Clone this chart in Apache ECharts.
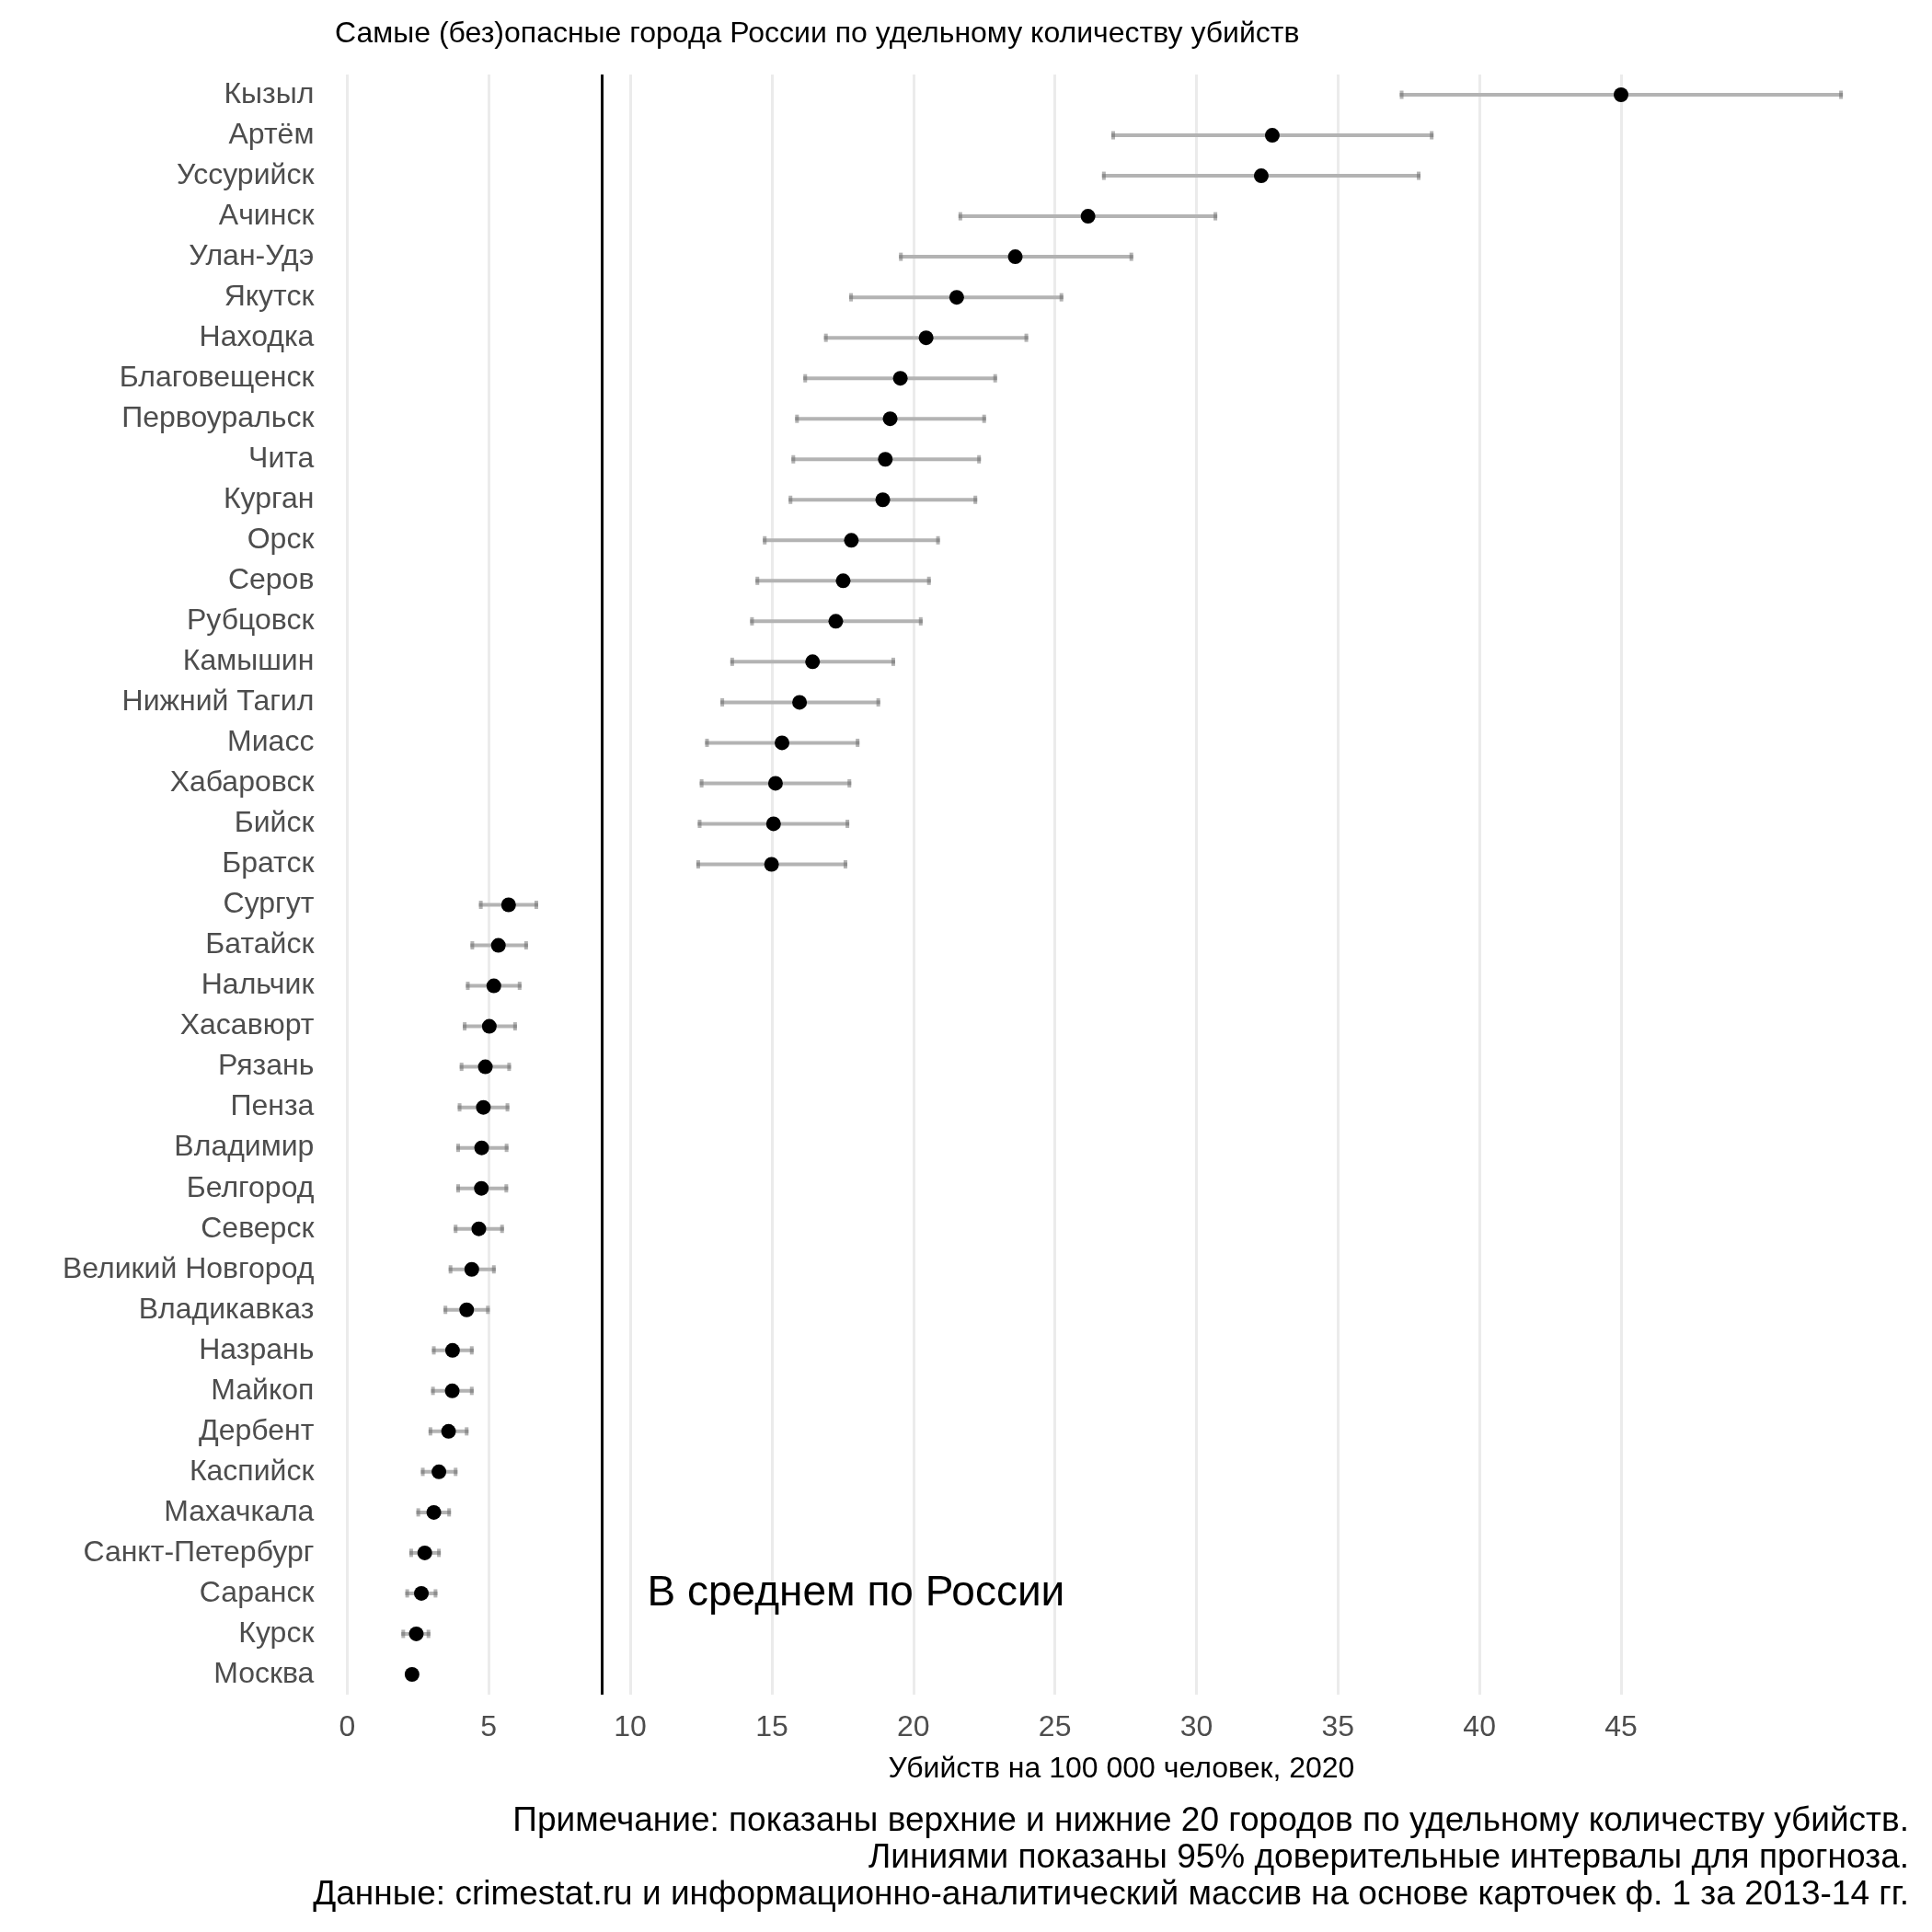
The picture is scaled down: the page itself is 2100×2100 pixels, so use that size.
<!DOCTYPE html>
<html>
<head>
<meta charset="utf-8">
<script src="https://cdn.jsdelivr.net/npm/echarts@6/dist/echarts.min.js"></script>
<style>
html,body{margin:0;padding:0;background:#fff;}
#chart{width:2100px;height:2100px;}
</style>
</head>
<body>
<div id="chart"></div>
<script>
const cities = ['Кызыл','Артём','Уссурийск','Ачинск','Улан-Удэ','Якутск','Находка','Благовещенск','Первоуральск','Чита','Курган','Орск','Серов','Рубцовск','Камышин','Нижний Тагил','Миасс','Хабаровск','Бийск','Братск','Сургут','Батайск','Нальчик','Хасавюрт','Рязань','Пенза','Владимир','Белгород','Северск','Великий Новгород','Владикавказ','Назрань','Майкоп','Дербент','Каспийск','Махачкала','Санкт-Петербург','Саранск','Курск','Москва'];
const rate   = [45.0,32.68,32.29,26.17,23.6,21.53,20.45,19.54,19.18,19.01,18.92,17.81,17.52,17.26,16.44,15.98,15.36,15.13,15.06,14.99,5.70,5.34,5.18,5.02,4.88,4.81,4.75,4.74,4.65,4.40,4.22,3.72,3.71,3.58,3.24,3.06,2.74,2.62,2.44,2.29];
const ciLow  = [37.25,27.06,26.73,21.66,19.56,17.80,16.91,16.18,15.89,15.76,15.66,14.75,14.49,14.30,13.60,13.25,12.71,12.52,12.45,12.40,4.72,4.42,4.26,4.15,4.04,3.97,3.92,3.92,3.83,3.65,3.47,3.06,3.03,2.94,2.67,2.51,2.26,2.12,1.98,2.18];
const ciHigh = [52.77,38.31,37.85,30.67,27.70,25.23,23.99,22.89,22.50,22.32,22.19,20.87,20.55,20.26,19.29,18.76,18.03,17.74,17.67,17.60,6.68,6.32,6.09,5.93,5.72,5.66,5.63,5.62,5.47,5.18,4.97,4.40,4.40,4.22,3.83,3.60,3.24,3.12,2.87,2.40];
const xTickLabels = [0,5,10,15,20,25,30,35,40,45];
const nationalAverage = 9.0;
const averageLabel = 'В среднем по России';
const averageLabelAt = [10.6, 'Саранск'];
const titleText = 'Самые (без)опасные города России по удельному количеству убийств';
const xAxisTitle = 'Убийств на 100 000 человек, 2020';
const notes = [
  'Примечание: показаны верхние и нижние 20 городов по удельному количеству убийств.',
  'Линиями показаны 95% доверительные интервалы для прогноза.',
  'Данные: crimestat.ru и информационно-аналитический массив на основе карточек ф. 1 за 2013-14 гг.'
];

const FONT = '"Liberation Sans", Arial, sans-serif';
const chart = echarts.init(document.getElementById('chart'), null, {renderer:'canvas'});

const xMax = 55;
const splitColors = [];
for (let v = 0; v <= xMax; v += 5) splitColors.push(xTickLabels.indexOf(v) >= 0 ? '#ebebeb' : 'rgba(0,0,0,0)');

function capGroup(p){
  return [
    {type:'rect', shape:{x:p[0]-2, y:p[1]-4.5, width:4, height:9}, style:{fill:'#b3b3b3'}},
    {type:'rect', shape:{x:p[0]-2, y:p[1]-2, width:4, height:4}, style:{fill:'#8c8c8c'}}
  ];
}

const option = {
  animation:false,
  backgroundColor:'#ffffff',
  grid:{left:377.4, right:30.3, top:81, bottom:258, containLabel:false},
  xAxis:{
    type:'value', min:0, max:xMax, interval:5,
    axisLine:{show:false}, axisTick:{show:false},
    axisLabel:{
      fontFamily:FONT, fontSize:32, color:'#4d4d4d', margin:20,
      formatter:function(v){ return xTickLabels.indexOf(v) >= 0 ? String(v) : ''; }
    },
    splitLine:{show:true, lineStyle:{color:splitColors, width:3}}
  },
  yAxis:{
    type:'category', data:cities, inverse:true,
    axisLine:{show:false}, axisTick:{show:false},
    axisLabel:{fontFamily:FONT, fontSize:32, color:'#4d4d4d', margin:36, padding:[5,0,0,0]},
    splitLine:{show:false}
  },
  graphic:[
    {type:'text', x:364, y:37, style:{text:titleText, font:'32px '+FONT, fill:'#000', textAlign:'left', textVerticalAlign:'middle'}},
    {type:'text', x:1219, y:1923, style:{text:xAxisTitle, font:'32px '+FONT, fill:'#000', textAlign:'center', textVerticalAlign:'middle'}},
    {type:'text', x:2075, y:1980, style:{text:notes[0], font:'37px '+FONT, fill:'#000', textAlign:'right', textVerticalAlign:'middle'}},
    {type:'text', x:2075, y:2020, style:{text:notes[1], font:'37px '+FONT, fill:'#000', textAlign:'right', textVerticalAlign:'middle'}},
    {type:'text', x:2075, y:2060, style:{text:notes[2], font:'37px '+FONT, fill:'#000', textAlign:'right', textVerticalAlign:'middle'}}
  ],
  series:[
    {
      type:'custom',
      data:cities.map((c,i)=>[ciLow[i], ciHigh[i], c]),
      encode:{x:[0,1], y:2},
      renderItem:function(params, api){
        const y = api.value(2);
        const lo = api.coord([api.value(0), y]);
        const hi = api.coord([api.value(1), y]);
        return {type:'group', children:[
          {type:'line', shape:{x1:lo[0], y1:lo[1], x2:hi[0], y2:hi[1]}, style:{stroke:'#b3b3b3', lineWidth:4}},
          ...capGroup(lo), ...capGroup(hi)
        ]};
      },
      z:2
    },
    {
      type:'scatter',
      data:cities.map((c,i)=>[rate[i], c]),
      symbol:'circle', symbolSize:16,
      itemStyle:{color:'#000', opacity:1},
      z:3,
      markLine:{
        silent:true, symbol:'none', label:{show:false},
        lineStyle:{color:'#000', width:3, type:'solid', opacity:1},
        data:[{xAxis:nationalAverage}]
      }
    },
    {
      type:'scatter',
      data:[averageLabelAt],
      symbolSize:0,
      itemStyle:{opacity:1},
      label:{show:true, position:'right', distance:0, formatter:averageLabel, fontFamily:FONT, fontSize:46, color:'#000', opacity:1},
      z:4
    }
  ]
};
chart.setOption(option);
</script>
</body>
</html>
